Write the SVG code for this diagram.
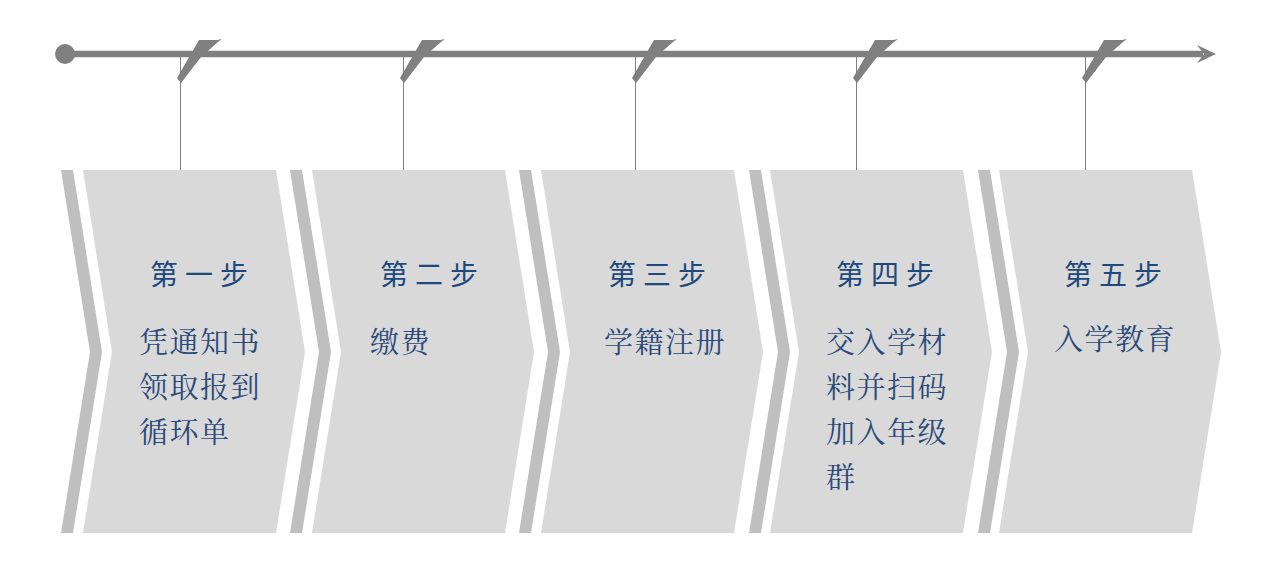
<svg xmlns="http://www.w3.org/2000/svg" width="1286" height="583" viewBox="0 0 1286 583">
<defs>
<style>
.stripe{fill:#BFBFBF}
.big{fill:#D9D9D9}
.vline{stroke:#808080;stroke-width:1}
.flag{fill:#808080}
.head{font-family:"Noto Sans CJK SC","Noto Sans",sans-serif;font-size:28px;fill:#1F497D;letter-spacing:7px}
.body{font-family:"Noto Serif CJK SC","Noto Sans CJK SC",serif;font-size:29px;fill:#2B4A7A;letter-spacing:1.5px}
</style>
<path id="flag" d="M19,40 L37,40 L42,39 L38,42 L21,57 L1,83 L-3,78 Z"/>
</defs>
<rect width="1286" height="583" fill="#FFFFFF"/>
<g id="timeline">
<circle cx="65" cy="54" r="10" fill="#808080"/>
<line x1="65" y1="54" x2="1203" y2="54" stroke="#808080" stroke-width="6.5"/>
<path d="M1197,45 L1216,54 L1197,63 L1204,54 Z" fill="#808080"/>
</g>
<g id="connectors">
<line class="vline" x1="180.5" y1="54" x2="180.5" y2="170"/>
<line class="vline" x1="403.5" y1="54" x2="403.5" y2="170"/>
<line class="vline" x1="635.5" y1="54" x2="635.5" y2="170"/>
<line class="vline" x1="856.5" y1="54" x2="856.5" y2="170"/>
<line class="vline" x1="1085.5" y1="54" x2="1085.5" y2="170"/>
<use href="#flag" class="flag" transform="translate(180,0)"/>
<use href="#flag" class="flag" transform="translate(403,0)"/>
<use href="#flag" class="flag" transform="translate(635,0)"/>
<use href="#flag" class="flag" transform="translate(856,0)"/>
<use href="#flag" class="flag" transform="translate(1085,0)"/>
</g>
<g id="step1">
<path class="stripe" d="M61,170 L73,170 L102,352 L73,533 L61,533 L90,352 Z"/>
<path class="big" d="M83,170 L276,170 L305,352 L276,533 L83,533 L112,352 Z"/>
<text class="head" x="150" y="285">第一步</text>
<text class="body" x="139" y="353">凭通知书</text>
<text class="body" x="139" y="398">领取报到</text>
<text class="body" x="139" y="443">循环单</text>
</g>
<g id="step2">
<path class="stripe" d="M290,170 L302,170 L331,352 L302,533 L290,533 L319,352 Z"/>
<path class="big" d="M312,170 L505,170 L534,352 L505,533 L312,533 L341,352 Z"/>
<text class="head" x="380" y="285">第二步</text>
<text class="body" x="370" y="353">缴费</text>
</g>
<g id="step3">
<path class="stripe" d="M519,170 L531,170 L560,352 L531,533 L519,533 L548,352 Z"/>
<path class="big" d="M541,170 L734,170 L763,352 L734,533 L541,533 L570,352 Z"/>
<text class="head" x="608" y="285">第三步</text>
<text class="body" x="604" y="353">学籍注册</text>
</g>
<g id="step4">
<path class="stripe" d="M749,170 L761,170 L790,352 L761,533 L749,533 L778,352 Z"/>
<path class="big" d="M770,170 L963,170 L992,352 L963,533 L770,533 L799,352 Z"/>
<text class="head" x="836" y="285">第四步</text>
<text class="body" x="826" y="353">交入学材</text>
<text class="body" x="826" y="398">料并扫码</text>
<text class="body" x="826" y="443">加入年级</text>
<text class="body" x="826" y="488">群</text>
</g>
<g id="step5">
<path class="stripe" d="M978,170 L990,170 L1019,352 L990,533 L978,533 L1007,352 Z"/>
<path class="big" d="M999,170 L1192,170 L1221,352 L1192,533 L999,533 L1028,352 Z"/>
<text class="head" x="1064" y="285">第五步</text>
<text class="body" x="1054" y="350">入学教育</text>
</g>
</svg>
